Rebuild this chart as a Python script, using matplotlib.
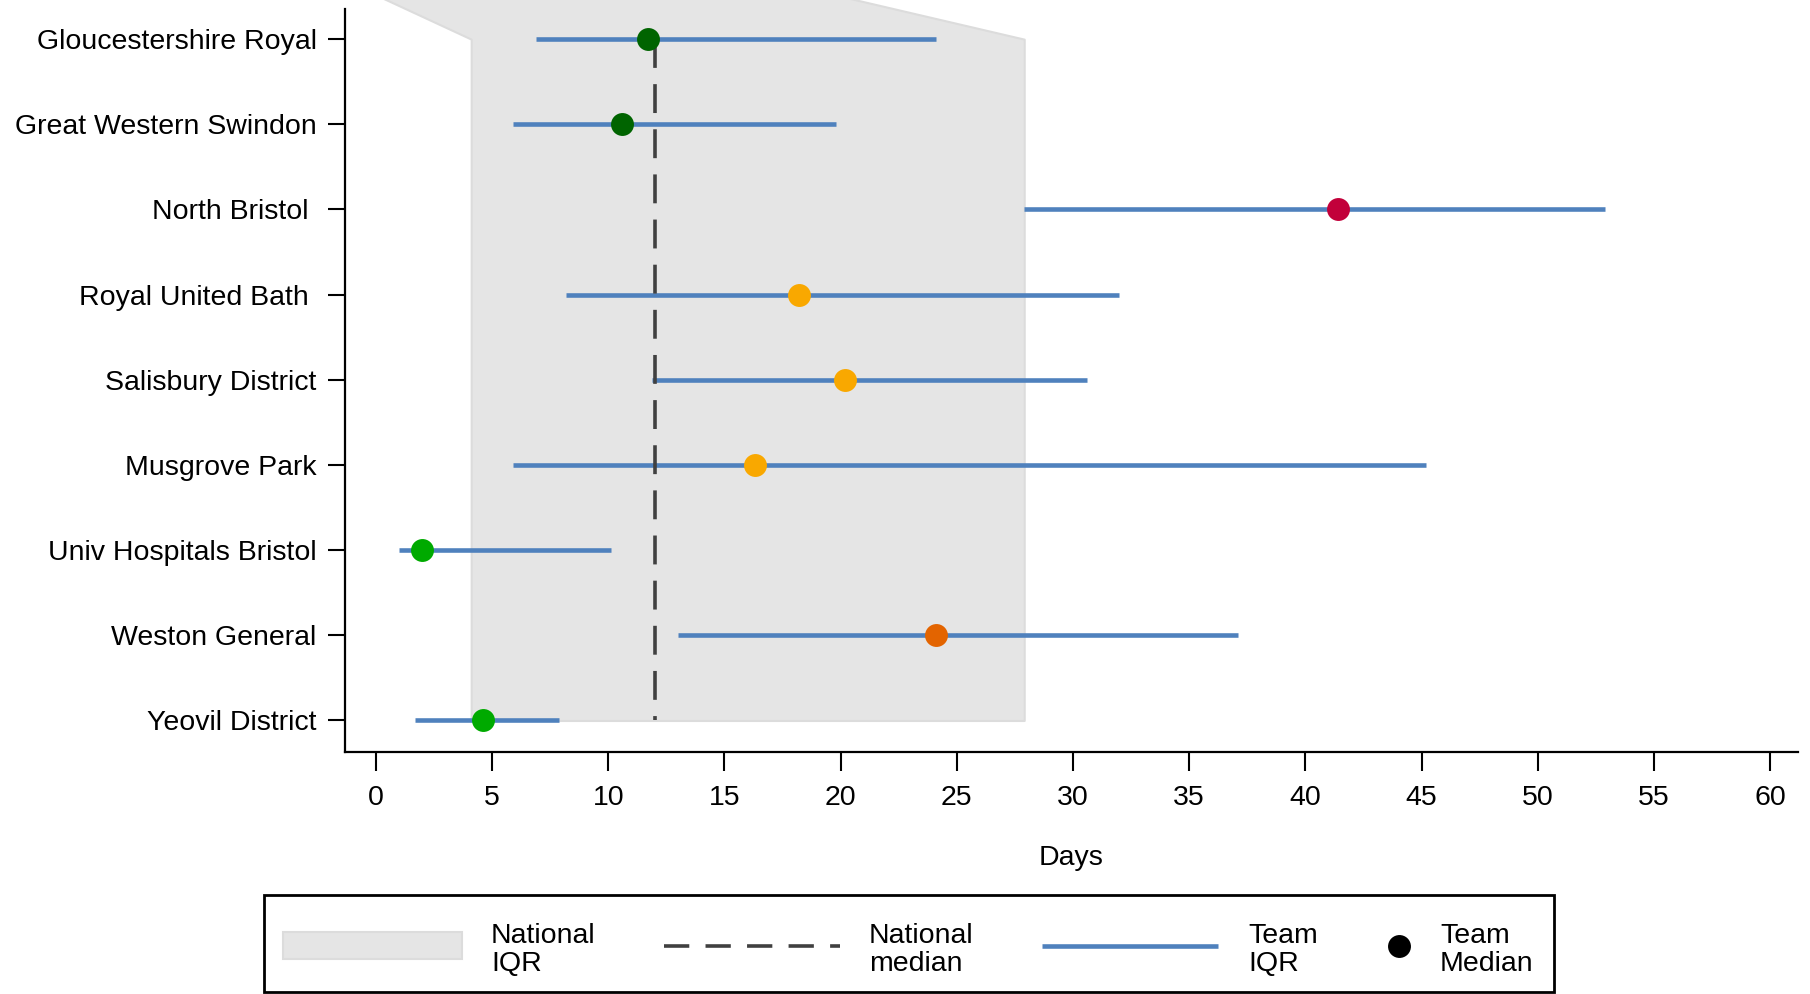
import matplotlib
matplotlib.use("Agg")
import matplotlib.pyplot as plt
from matplotlib.patches import Rectangle
from matplotlib.lines import Line2D

plt.rcParams['font.family'] = ['Liberation Sans', 'DejaVu Sans']

# Hospital teams, top to bottom
teams = ["Gloucestershire Royal", "Great Western Swindon", "North Bristol ",
         "Royal United Bath ", "Salisbury District", "Musgrove Park",
         "Univ Hospitals Bristol", "Weston General", "Yeovil District"]
team_q1 = [6.9, 5.9, 27.9, 8.2, 11.9, 5.9, 1.0, 13.0, 1.7]
team_median = [11.7, 10.6, 41.4, 18.2, 20.2, 16.3, 2.0, 24.1, 4.6]
team_q3 = [24.1, 19.8, 52.9, 32.0, 30.6, 45.2, 10.1, 37.1, 7.9]
median_colors = ["#006400", "#006400", "#C2003A", "#F9A800", "#F9A800",
                 "#F9A800", "#00AA00", "#E36400", "#00AA00"]

# National reference band (rows and bounds) and national median
band_rows = [-1, 0, 8]
band_lo = [-3.8, 4.1, 4.1]
band_hi = [12.2, 27.9, 27.9]
national_median = 12.0

xticks = list(range(0, 61, 5))

W, H = 1810, 994
fig = plt.figure(figsize=(W / 100, H / 100), dpi=100)
ax = fig.add_axes([345 / W, 1 - 752 / H, (1798 - 345) / W, (752 - 9) / H])

rows = list(range(len(teams)))

band = ax.fill_betweenx(band_rows, band_lo, band_hi, facecolor="#e5e5e5",
                        edgecolor="#dcdcdc", linewidth=1.5, zorder=1)
band.set_clip_on(False)

for r, lo, hi in zip(rows, team_q1, team_q3):
    ax.plot([lo, hi], [r, r], color="#4F81BD", linewidth=3.3,
            solid_capstyle="butt", zorder=2)

ax.plot([national_median, national_median], [rows[0], rows[-1]],
        color="#404040", linewidth=2.6, dashes=(8, 4.5), zorder=3)

for r, m, c in zip(rows, team_median, median_colors):
    ax.plot(m, r, marker="o", markersize=16.5, color=c,
            markeredgewidth=0, linestyle="none", zorder=4)

ax.set_xlim(-1.33, 61.2)
ax.set_ylim(8.37, -0.354)
ax.set_xticks(xticks)
ax.set_yticks(rows)
ax.set_yticklabels(teams)
ax.spines["top"].set_visible(False)
ax.spines["right"].set_visible(False)
for s in ("left", "bottom"):
    ax.spines[s].set_linewidth(1.6)
    ax.spines[s].set_zorder(5)
ax.tick_params(axis="x", length=14, width=1.5, pad=10, labelsize=20.5)
ax.tick_params(axis="y", length=12.5, width=1.5, pad=8, labelsize=20.5)
ax.set_xlabel("Days", fontsize=20.5, labelpad=24)

# Legend drawn in figure pixel space
lax = fig.add_axes([0, 0, 1, 1])
lax.set_xlim(0, W)
lax.set_ylim(H, 0)
lax.axis("off")
lax.add_patch(Rectangle((264, 895), 1554 - 264, 97, facecolor="white",
                        edgecolor="black", linewidth=2))
lax.add_patch(Rectangle((283, 932), 462 - 283, 27, facecolor="#e5e5e5",
                        edgecolor="#dcdcdc", linewidth=1.5))
lax.add_line(Line2D([664, 840], [946, 946], color="#404040", linewidth=2.6,
                    dashes=(7, 4.5)))
lax.add_line(Line2D([1042, 1218], [946, 946], color="#4F81BD", linewidth=3.3,
                    solid_capstyle="butt"))
lax.add_line(Line2D([1399], [946], marker="o", markersize=16.5, color="black",
                    markeredgewidth=0, linestyle="none"))
legend_texts = [(491, "National\nIQR"), (869, "National\nmedian"),
                (1248, "Team\nIQR"), (1440, "Team\nMedian")]
for x, t in legend_texts:
    lax.text(x, 950, t, fontsize=20.5, ha="left", va="center", linespacing=1.12)

fig.savefig("out.png", dpi=100)
